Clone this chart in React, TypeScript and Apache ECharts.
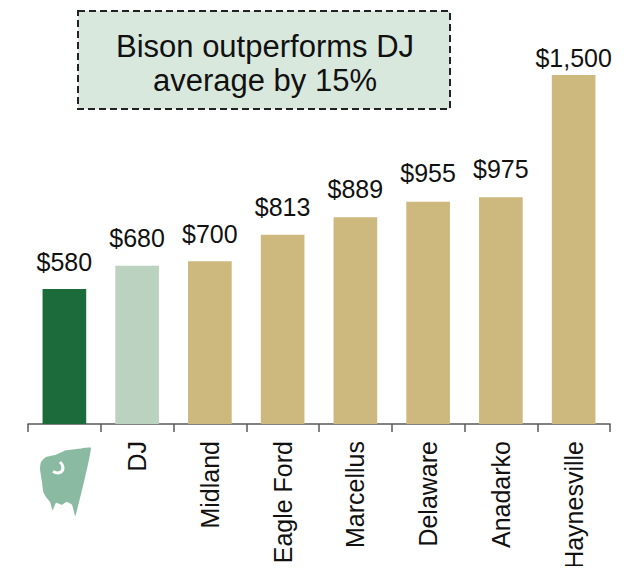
import React, { useEffect, useRef } from "react";
import * as echarts from "echarts";

const categories = ["", "DJ", "Midland", "Eagle Ford", "Marcellus", "Delaware", "Anadarko", "Haynesville"];
const values = [580, 680, 700, 813, 889, 955, 975, 1500];
const barColors = ["#1b6b3b", "#bbd2c1", "#cdb87e", "#cdb87e", "#cdb87e", "#cdb87e", "#cdb87e", "#cdb87e"];
const labelGaps = [15, 15, 15, 15, 16, 16, 16, 5];
const annotationLines = ["Bison outperforms DJ", "average by 15%"];

const FONT = "'Liberation Sans', Arial, sans-serif";

export default function App() {
  const ref = useRef<HTMLDivElement>(null);
  useEffect(() => {
    if (!ref.current) return;
    const chart = echarts.init(ref.current, null, { renderer: "svg" });
    const bisonPts = [
      [51, 0], [35.3, 68], [32, 56.7], [26.7, 54], [22, 56.7], [16, 54.7], [12.7, 62.3],
      [10, 54], [6, 49], [3.3, 44], [2, 34], [0, 20.7], [1, 14], [6, 9], [16, 6.7], [26, 2.3], [39.3, 0.7],
    ];
    chart.setOption({
      animation: false,
      grid: { left: 28, right: 19, top: 75, bottom: 150, containLabel: false, outerBoundsMode: "none" },
      xAxis: {
        type: "category",
        data: categories,
        axisLine: { show: true, lineStyle: { color: "#595959", width: 1.5 } },
        axisTick: { show: true, length: 8, lineStyle: { color: "#595959", width: 1.5 } },
        axisLabel: {
          rotate: 90,
          margin: 17,
          fontSize: 25,
          color: "#111",
          fontFamily: FONT,
          interval: 0,
          hideOverlap: false,
        },
      },
      yAxis: {
        type: "value",
        min: 0,
        max: 1500,
        show: false,
        splitLine: { show: false },
      },
      series: [
        {
          type: "bar",
          barWidth: "60%",
          data: values.map((v, i) => ({
            value: v,
            itemStyle: { color: barColors[i] },
            label: { distance: labelGaps[i] },
          })),
          label: {
            show: true,
            position: "top",
            fontSize: 25,
            color: "#111",
            fontFamily: FONT,
            formatter: (p: any) => "$" + Number(p.value).toLocaleString("en-US"),
          },
        },
      ],
      graphic: [
        {
          type: "group",
          children: [
            {
              type: "rect",
              shape: { x: 78, y: 11, width: 372, height: 98 },
              style: { fill: "#d9e8dd", stroke: "#222", lineWidth: 2, lineDash: [7, 4] },
            },
            {
              type: "text",
              x: 265,
              y: 63,
              style: {
                text: annotationLines.join("\n"),
                fontSize: 31,
                lineHeight: 34,
                fontFamily: FONT,
                fill: "#111",
                align: "center",
                verticalAlign: "middle",
              },
            },
          ],
        },
        {
          type: "polygon",
          x: 40,
          y: 448,
          shape: { points: bisonPts, smooth: 0.15 },
          style: { fill: "#8bbaa2" },
        },
        {
          type: "polyline",
          shape: { points: [[60, 462], [63, 467.5], [60, 472.5], [53, 471.5]], smooth: 0.5 },
          style: { stroke: "#ffffff", lineWidth: 3, fill: "none" },
        },
      ],
    });
    return () => chart.dispose();
  }, []);
  return <div ref={ref} style={{ width: 629, height: 574, margin: -8 }} />;
}
